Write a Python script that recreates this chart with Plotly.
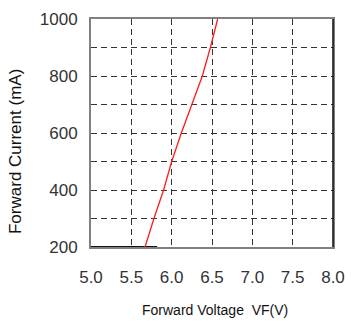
import plotly.graph_objects as go

# Data
vf_red = [5.67, 5.78, 5.90, 6.00, 6.12, 6.25, 6.38, 6.48, 6.57]
if_red = [200, 300, 400, 500, 600, 700, 800, 900, 1000]
vf_black = [5.0, 5.82]
if_black = [200, 200]

x_ticks = [5.0, 5.5, 6.0, 6.5, 7.0, 7.5, 8.0]
x_ticktext = ["5.0", "5.5", "6.0", "6.5", "7.0", "7.5", "8.0"]
y_ticks = [200, 400, 600, 800, 1000]
y_ticktext = ["200", "400", "600", "800", "1000"]

FONT = "Liberation Sans, Arial, sans-serif"

fig = go.Figure()
fig.add_trace(go.Scatter(x=vf_black, y=if_black, mode="lines",
                         line=dict(color="#111111", width=2.2),
                         showlegend=False, cliponaxis=False))
fig.add_trace(go.Scatter(x=vf_red, y=if_red, mode="lines",
                         line=dict(color="#ff1a1a", width=1.3),
                         showlegend=False))

fig.update_layout(
    width=355, height=322,
    margin=dict(l=91, r=22, t=10, b=75),
    paper_bgcolor="white", plot_bgcolor="white",
    font=dict(family=FONT, color="#222222"),
    showlegend=False,
)
fig.update_xaxes(
    range=[5.0, 8.0], tickvals=x_ticks, ticktext=x_ticktext,
    showgrid=True, gridcolor="#333333", gridwidth=1, griddash="6px,4px",
    showline=True, linecolor="#808080", linewidth=2, mirror=True,
    ticks="", tickfont=dict(size=17, family=FONT, color="#333333"),
    ticklabelstandoff=14, zeroline=False,
)
fig.update_yaxes(
    range=[200, 1000], tickvals=y_ticks, ticktext=y_ticktext,
    showgrid=True, gridcolor="#333333", gridwidth=1, griddash="6px,4px",
    minor=dict(dtick=100, tick0=200, showgrid=True, gridcolor="#333333",
               gridwidth=1, griddash="6px,4px", ticks=""),
    showline=True, linecolor="#808080", linewidth=2, mirror=True,
    ticks="", tickfont=dict(size=17, family=FONT, color="#333333"),
    ticklabelstandoff=8, zeroline=False,
)
# right frame edge is black in the reference
fig.add_shape(type="line", xref="paper", yref="paper", x0=1, x1=1, y0=0, y1=1,
              line=dict(color="#111111", width=1.5))

fig.add_annotation(text="Forward Current (mA)", xref="paper", yref="paper",
                   x=-0.315, y=0.42, xanchor="center", yanchor="middle",
                   textangle=-90, showarrow=False,
                   font=dict(size=17, family=FONT, color="#111111"))
fig.add_annotation(text="Forward Voltage&nbsp; VF(V)", xref="paper", yref="paper",
                   x=0.512, y=-0.275, xanchor="center", yanchor="middle",
                   showarrow=False,
                   font=dict(size=14, family=FONT, color="#111111"))

fig.write_html("out.html")
